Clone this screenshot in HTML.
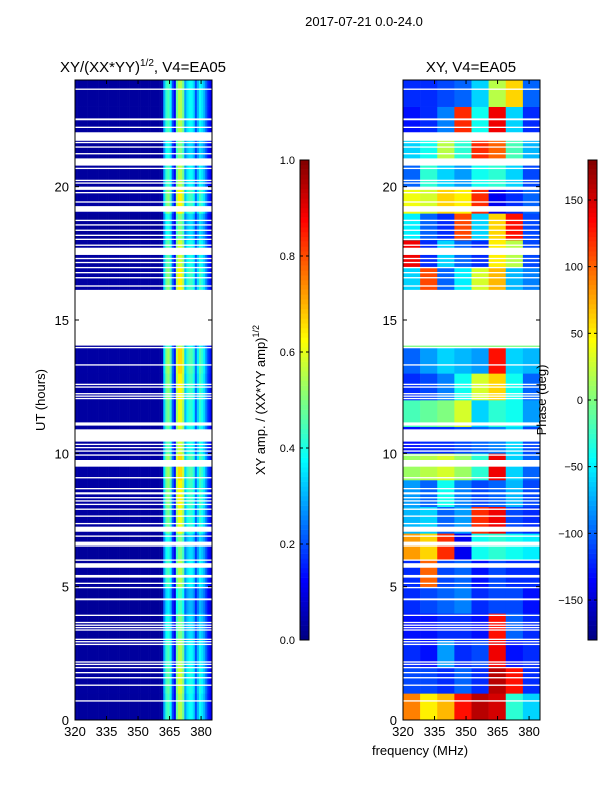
<!DOCTYPE html>
<html><head><meta charset="utf-8"><style>
body{margin:0;background:#fff;}
svg{display:block;font-family:"Liberation Sans","DejaVu Sans",sans-serif;}
</style></head><body>
<svg id="fig" width="600" height="800" viewBox="0 0 600 800">
<text x="364" y="26" font-size="13" text-anchor="middle">2017-07-21 0.0-24.0</text>
<text x="143" y="72" font-size="15" text-anchor="middle">XY/(XX*YY)<tspan dy="-6" font-size="10">1/2</tspan><tspan dy="6">, V4=EA05</tspan></text>
<text x="471" y="72" font-size="15" text-anchor="middle">XY, V4=EA05</text>
<text transform="translate(45,400) rotate(-90)" font-size="13" text-anchor="middle">UT (hours)</text>
<text x="420" y="755" font-size="13" text-anchor="middle">frequency (MHz)</text>
<text transform="translate(265,400) rotate(-90)" font-size="13" text-anchor="middle">XY amp. / (XX*YY amp)<tspan dy="-6" font-size="9">1/2</tspan></text>
<g id="left"></g>
<g id="right"></g>
<g id="cb1"></g>
<g id="cb2"></g>
<text transform="translate(546,400) rotate(-90)" font-size="13" text-anchor="middle">Phase (deg)</text>
</svg>
<script>
const hours=[0,1,2,3,4,5,6,7,8,9,10,11,12,13,14,15,16,17,18,19,20,21,22,23];
const ampFreqs=[];for(let f=320;f<=384;f++)ampFreqs.push(f);
const ampProfile=[0.03,0.03,0.03,0.03,0.03,0.03,0.03,0.03,0.03,0.03,0.03,0.03,0.03,0.03,0.03,0.03,0.03,0.03,0.03,0.03,0.03,0.03,0.03,0.03,0.03,0.03,0.03,0.03,0.03,0.03,0.03,0.03,0.03,0.03,0.03,0.03,0.03,0.03,0.03,0.03,0.03,0.04,
0.3,0.42,0.45,0.38,0.2,0.12,0.48,0.55,0.55,0.48,0.28,0.35,0.38,0.38,0.34,0.2,0.3,0.38,0.35,0.3,0.22,0.15,0.12];
const ampHourScale=[1.0,1.05,1.0,0.9,0.8,1.0,0.9,1.1,1.15,1.2,1.05,1.1,1.15,1.2,1,1,1.15,1.05,0.9,1.15,1.0,0.9,1.0,1.0];
const phaseFreqEdges=[320,328.15,336.3,344.45,352.6,360.75,368.9,377.05,385.2];
const phaseGrid=[
[90,50,70,130,160,150,-30,-60],
[-110,-110,-120,-100,-120,160,130,-120],
[-120,-130,-80,-120,-110,140,-130,-120],
[-130,-130,-120,-120,-130,130,-100,-120],
[-120,-110,-100,-90,-120,-110,-110,-130],
[-120,100,-110,-100,-130,-110,-120,-120],
[80,60,120,-140,-40,-30,-40,-50],
[-70,-60,-100,-80,120,140,-110,-120],
[-80,-100,-40,-90,-110,-100,-70,-110],
[10,20,30,10,-30,140,-60,-100],
[-130,-120,-120,-110,-100,-90,-60,-110],
[-20,-10,0,30,-60,-30,-40,-80],
[-120,-110,-90,-40,30,60,-40,-100],
[-100,-80,-60,-70,-80,130,-60,-70],
[0,0,0,0,0,0,0,0],
[0,0,0,0,0,0,0,0],
[-60,110,-100,-50,30,70,-70,-90],
[140,-120,-60,-100,-120,50,20,-110],
[-50,-100,-120,110,-60,60,130,-110],
[40,30,60,50,120,-140,-120,-100],
[-100,-30,-60,-80,-40,-30,-60,-110],
[-60,-40,20,-30,120,100,-20,-70],
[-130,-120,-90,120,-40,140,-60,-120],
[-120,-120,-110,-100,-60,20,60,-100]];
const gapStarts=[23.63,22.49,22.20,21.72,21.63,21.46,21.21,20.79,20.66,20.21,20.11,19.88,19.75,19.40,19.06,18.71,18.54,18.34,18.15,18.00,17.78,17.44,17.28,17.13,16.94,16.75,16.56,16.25,14.04,13.94,13.29,12.56,12.46,12.21,12.12,12.03,11.04,10.44,10.31,10.19,10.06,9.91,9.50,9.06,8.65,8.46,8.31,8.19,8.06,7.88,7.62,7.34,7.06,6.87,6.56,6.50,5.97,5.71,5.34,5.10,4.94,4.49,3.90,3.63,3.53,3.44,3.35,3.00,2.91,2.81,2.15,2.06,1.94,1.75,1.56,1.28,0.69];
const gapEnds=[23.68,22.56,22.25,22.04,21.68,21.51,21.26,21.06,20.71,20.26,20.16,20.00,19.80,19.45,19.27,18.76,18.59,18.39,18.20,18.05,17.83,17.71,17.33,17.18,16.99,16.80,16.61,16.30,16.13,13.99,13.34,12.61,12.51,12.26,12.17,12.08,11.16,10.90,10.36,10.24,10.11,9.96,9.75,9.11,8.70,8.54,8.36,8.24,8.11,7.93,7.67,7.39,7.25,6.92,6.69,6.55,6.02,5.88,5.44,5.15,4.99,4.56,3.95,3.68,3.58,3.49,3.40,3.05,2.96,2.86,2.20,2.11,1.99,1.80,1.61,1.33,0.74];
const xTicks=[320,335,350,365,380];
const yTicks=[0,5,10,15,20];
const ampTicks=[0.0,0.2,0.4,0.6,0.8,1.0];
const phaseTicks=[-150,-100,-50,0,50,100,150];

const NS='http://www.w3.org/2000/svg';
function jet(v){v=Math.max(0,Math.min(1,v));
 const r=Math.max(0,Math.min(1,1.5-Math.abs(4*v-3))),g=Math.max(0,Math.min(1,1.5-Math.abs(4*v-2))),b=Math.max(0,Math.min(1,1.5-Math.abs(4*v-1)));
 return `rgb(${Math.round(r*255)},${Math.round(g*255)},${Math.round(b*255)})`;}
function el(tag,attrs,parent){const e=document.createElementNS(NS,tag);for(const k in attrs)e.setAttribute(k,attrs[k]);parent.appendChild(e);return e;}
const PT=80,PB=720,FMIN=320,FMAX=385.2;
const yS=h=>PB-(h/24)*(PB-PT);
function panel(g,x0){
 const xS=f=>x0+(f-FMIN)/(FMAX-FMIN)*137;
 return xS;}
const gL=document.getElementById('left');
const xL=panel(gL,75);
hours.forEach((h,i)=>{ampFreqs.forEach((f,j)=>{
 const c=el('rect',{x:xL(f),y:yS(h+1),width:xL(f+1)-xL(f)+0.3,height:yS(h)-yS(h+1)+0.3,fill:jet(ampProfile[j]*ampHourScale[i])},gL);
 
 
});});
const gR=document.getElementById('right');
const xR=panel(gR,403);
hours.forEach((h,i)=>{for(let j=0;j<8;j++){
 const c=el('rect',{x:xR(phaseFreqEdges[j]),y:yS(h+1),width:xR(phaseFreqEdges[j+1])-xR(phaseFreqEdges[j])+0.3,height:yS(h)-yS(h+1)+0.3,fill:jet((phaseGrid[i][j]+180)/360)},gR);
 
 
}});
function gapsAxes(g,x0,xS){
 gapStarts.forEach((s,k)=>{
  const r=el('rect',{x:x0,y:yS(gapEnds[k]),width:137,height:Math.max(1.2,yS(s)-yS(gapEnds[k])),fill:'#fff'},g);
  
  
 });
 el('rect',{x:x0,y:PT,width:137,height:PB-PT,fill:'none',stroke:'#000','stroke-width':1},g);
 xTicks.forEach(t=>{const x=xS(t);
  el('line',{x1:x,x2:x,y1:PB,y2:PB-4,stroke:'#000'},g);
  el('line',{x1:x,x2:x,y1:PT,y2:PT+4,stroke:'#000'},g);
  const tx=el('text',{x:x,y:PB+16,'font-size':13,'text-anchor':'middle'},g);tx.textContent=t;
  
  
 });
 yTicks.forEach(t=>{const y=yS(t);
  el('line',{x1:x0,x2:x0+4,y1:y,y2:y,stroke:'#000'},g);
  el('line',{x1:x0+137,x2:x0+133,y1:y,y2:y,stroke:'#000'},g);
  const tx=el('text',{x:x0-6,y:y+5,'font-size':13,'text-anchor':'end'},g);tx.textContent=t;
  
  
 });
}
gapsAxes(gL,75,xL);gapsAxes(gR,403,xR);
function colorbar(g,x,ticks,vmin,vmax,fmt){
 const n=100;
 for(let i=0;i<n;i++){el('rect',{x:x,y:640-(i+1)*4.8,width:9,height:5.1,fill:jet((i+0.5)/n)},g);}
 el('rect',{x:x,y:160,width:9,height:480,fill:'none',stroke:'#000'},g);
 ticks.forEach(t=>{const y=640-(t-vmin)/(vmax-vmin)*480;
  el('line',{x1:x,x2:x+3,y1:y,y2:y,stroke:'#000'},g);
  el('line',{x1:x+9,x2:x+6,y1:y,y2:y,stroke:'#000'},g);
  const tx=el('text',{x:x-5,y:y+4,'font-size':11,'text-anchor':'end'},g);tx.textContent=fmt(t);
  
  
 });
}
colorbar(document.getElementById('cb1'),300,ampTicks,0,1,t=>t.toFixed(1));
colorbar(document.getElementById('cb2'),588,phaseTicks,-180,180,t=>t<0?'\u2212'+(-t):String(t));
</script>
</body></html>
